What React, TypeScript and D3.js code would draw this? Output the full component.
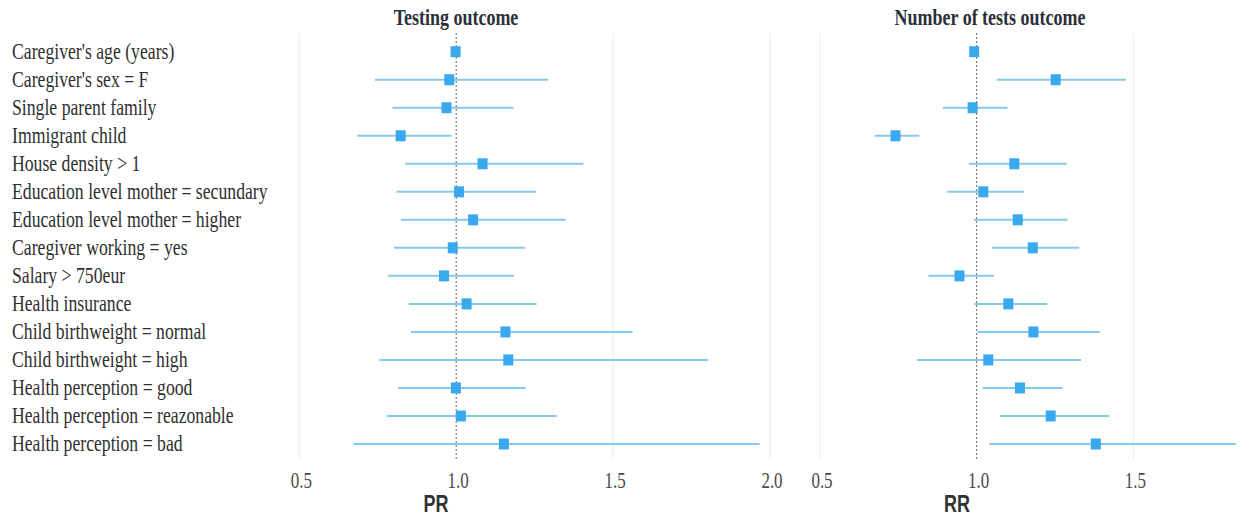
import React, { useRef, useEffect } from "react";
import * as d3 from "d3";

const labels = [
  "Caregiver's age (years)",
  "Caregiver's sex = F",
  "Single parent family",
  "Immigrant child",
  "House density > 1",
  "Education level mother = secundary",
  "Education level mother = higher",
  "Caregiver working = yes",
  "Salary > 750eur",
  "Health insurance",
  "Child birthweight = normal",
  "Child birthweight = high",
  "Health perception = good",
  "Health perception = reazonable",
  "Health perception = bad",
];

// Testing outcome (PR)
const prEst = [0.998, 0.978, 0.969, 0.823, 1.084, 1.009, 1.054, 0.989, 0.961, 1.033, 1.157, 1.166, 0.999, 1.015, 1.152];
const prLow = [0.99, 0.741, 0.797, 0.685, 0.837, 0.81, 0.824, 0.802, 0.783, 0.849, 0.856, 0.755, 0.815, 0.78, 0.672];
const prHigh = [1.005, 1.293, 1.182, 0.985, 1.405, 1.254, 1.349, 1.219, 1.184, 1.256, 1.562, 1.803, 1.221, 1.32, 1.967];

// Number of tests outcome (RR)
const rrEst = [0.992, 1.252, 0.987, 0.741, 1.12, 1.021, 1.131, 1.179, 0.945, 1.101, 1.181, 1.037, 1.138, 1.236, 1.38];
const rrLow = [0.987, 1.064, 0.892, 0.675, 0.976, 0.906, 0.991, 1.048, 0.846, 0.992, 1.002, 0.81, 1.019, 1.074, 1.04];
const rrHigh = [0.997, 1.476, 1.098, 0.817, 1.287, 1.151, 1.29, 1.327, 1.055, 1.225, 1.393, 1.333, 1.274, 1.423, 1.827];

const prTicks = [0.5, 1.0, 1.5, 2.0];
const rrTicks = [0.5, 1.0, 1.5];

const W = 1243;
const H = 516;
const SY = 1.33; // the picture's text is stretched vertically

const App = () => {
  const svgRef = useRef<SVGSVGElement | null>(null);

  useEffect(() => {
    const svg = d3.select(svgRef.current);
    svg.selectAll("*").remove();

    const y = d3.scalePoint<string>().domain(labels).range([51.7, 444]);
    const gridTop = 33;
    const gridBottom = 459;

    const stretchedText = (
      g: d3.Selection<any, any, any, any>,
      x: number,
      yy: number,
      txt: string,
      opts: { size: number; anchor?: string; weight?: string; family?: string; fill?: string }
    ) => {
      g.append("g")
        .attr("transform", `translate(${x},${yy}) scale(1,${SY})`)
        .append("text")
        .attr("text-anchor", opts.anchor || "start")
        .attr("font-size", opts.size)
        .attr("font-weight", opts.weight || "normal")
        .attr("font-family", opts.family || "'Liberation Serif', 'Times New Roman', serif")
        .attr("fill", opts.fill || "#333")
        .text(txt);
    };

    // row labels
    labels.forEach((l) => {
      stretchedText(svg, 12, y(l)! + 7, l, { size: 17.7, fill: "#2f2f2f" });
    });

    const panels = [
      {
        title: "Testing outcome",
        titleX: 456,
        axis: "PR",
        axisX: 436,
        x: d3.scaleLinear().domain([0.5, 2.0]).range([299.3, 770]),
        ticks: prTicks,
        est: prEst,
        low: prLow,
        high: prHigh,
      },
      {
        title: "Number of tests outcome",
        titleX: 990,
        axis: "RR",
        axisX: 957,
        x: d3.scaleLinear().domain([0.5, 1.5]).range([820, 1133.4]),
        ticks: rrTicks,
        est: rrEst,
        low: rrLow,
        high: rrHigh,
      },
    ];

    panels.forEach((p) => {
      const g = svg.append("g");

      // grid lines
      g.selectAll("line.grid")
        .data(p.ticks.filter((t) => t !== 1))
        .enter()
        .append("line")
        .attr("x1", (d) => p.x(d))
        .attr("x2", (d) => p.x(d))
        .attr("y1", gridTop)
        .attr("y2", gridBottom)
        .attr("stroke", "#ececec")
        .attr("stroke-width", 1);

      // reference line at 1
      g.append("line")
        .attr("x1", p.x(1))
        .attr("x2", p.x(1))
        .attr("y1", gridTop)
        .attr("y2", gridBottom)
        .attr("stroke", "#666")
        .attr("stroke-width", 1)
        .attr("stroke-dasharray", "2,2");

      // confidence intervals
      g.selectAll("line.ci")
        .data(labels)
        .enter()
        .append("line")
        .attr("x1", (_, i) => p.x(p.low[i]))
        .attr("x2", (_, i) => p.x(p.high[i]))
        .attr("y1", (d) => y(d)!)
        .attr("y2", (d) => y(d)!)
        .attr("stroke", "#84c8ea")
        .attr("stroke-width", 2);

      // point estimates
      g.selectAll("rect.pt")
        .data(labels)
        .enter()
        .append("rect")
        .attr("x", (_, i) => p.x(p.est[i]) - 5)
        .attr("y", (d) => y(d)! - 5.5)
        .attr("width", 10)
        .attr("height", 11)
        .attr("fill", "#3aa8ec");

      // tick labels
      p.ticks.forEach((t) => {
        stretchedText(g, p.x(t) + 2, 488, d3.format(".1f")(t), { size: 17, anchor: "middle", fill: "#4a4a4a" });
      });

      // title
      stretchedText(g, p.titleX, 25, p.title, { size: 18, anchor: "middle", weight: "bold", fill: "#2b2f3a" });

      // axis title
      stretchedText(g, p.axisX, 512, p.axis, {
        size: 18,
        anchor: "middle",
        weight: "bold",
        family: "'Liberation Sans', Arial, sans-serif",
        fill: "#333",
      });
    });
  }, []);

  return (
    <svg
      ref={svgRef}
      width={W}
      height={H}
      style={{ position: "absolute", left: 0, top: 0, background: "#fff" }}
    />
  );
};

export default App;
